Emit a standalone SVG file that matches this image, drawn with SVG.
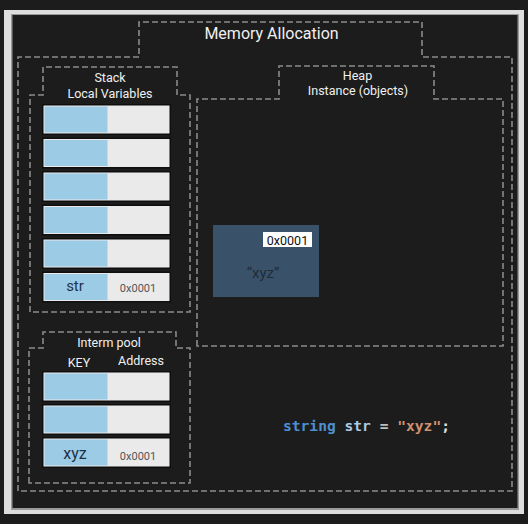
<svg xmlns="http://www.w3.org/2000/svg" width="528" height="524" viewBox="0 0 528 524">
<style>
.dash{fill:none;stroke:#8a8a8a;stroke-width:1.6;stroke-dasharray:6 3}
.rowo{fill:#0e0e0e}
.rowi{fill:#eaeaea}
.blue{fill:#9ccbe6}
.lbl{font-family:Roboto,"Liberation Sans",sans-serif;fill:#f0f0f0;text-anchor:middle}
.key{font-family:Roboto,"Liberation Sans",sans-serif;fill:#1f3347;text-anchor:middle}
.addr{font-family:Roboto,"Liberation Sans",sans-serif;fill:#555;text-anchor:middle;font-size:11px}
.code{font-family:"DejaVu Sans Mono","Liberation Mono",monospace;font-size:14.6px;font-weight:bold}
</style>
<defs>
<g id="row">
<rect class="rowo" x="0" y="0" width="129" height="31"/>
<rect class="rowi" x="1.5" y="1.5" width="126" height="28"/>
<rect class="blue" x="2.5" y="2.5" width="63" height="26"/>
</g>
</defs>
<rect x="0" y="0" width="528" height="524" fill="#1c1c1c"/>
<rect x="4" y="10" width="520" height="504" fill="#dedede"/>
<rect x="11" y="14" width="508" height="496" fill="#9a9a9a"/>
<rect x="12.5" y="15" width="505" height="493" fill="#1c1c1c"/>

<g id="memory-allocation">
<path class="dash" d="M18,491 V57 H139 V22 H422 V57 H512 V491 Z"/>
<text class="lbl" x="271.5" y="38.5" font-size="16">Memory Allocation</text>
</g>

<g id="stack">
<path class="dash" d="M30,312 V95 H43 V67 H177 V95 H190 V312 Z"/>
<text class="lbl" x="110" y="81.5" font-size="12.5">Stack</text>
<text class="lbl" x="110" y="97.5" font-size="12.5">Local Variables</text>
<use href="#row" x="42" y="104"/>
<use href="#row" x="42" y="137.5"/>
<use href="#row" x="42" y="171"/>
<use href="#row" x="42" y="204.5"/>
<use href="#row" x="42" y="238"/>
<use href="#row" x="42" y="271.5"/>
<text class="key" x="75" y="291" font-size="15">str</text>
<text class="addr" x="138" y="292">0x0001</text>
</g>

<g id="heap">
<path class="dash" d="M197,346 V99 H279 V66 H434 V99 H503 V346 Z"/>
<text class="lbl" x="357.5" y="80" font-size="12.5">Heap</text>
<text class="lbl" x="358" y="95" font-size="12.5">Instance (objects)</text>
</g>

<g id="heap-object">
<rect x="213" y="225" width="106" height="72" fill="#3a5269"/>
<rect x="263" y="232" width="49" height="15" fill="#ffffff"/>
<text x="287.5" y="244.5" font-family="Roboto,'Liberation Sans',sans-serif" font-size="12.5" fill="#111" text-anchor="middle">0x0001</text>
<text x="263" y="278" font-family="Roboto,'Liberation Sans',sans-serif" font-size="15" fill="#1f2c3a" text-anchor="middle">“xyz”</text>
</g>

<g id="intern-pool">
<path class="dash" d="M29,483 V348 H43 V332 H176 V348 H190 V483 Z"/>
<text class="lbl" x="109" y="347" font-size="12.5">Interm pool</text>
<text class="lbl" x="79" y="367" font-size="12.5">KEY</text>
<text class="lbl" x="141" y="365" font-size="12.5">Address</text>
<use href="#row" x="42" y="371"/>
<use href="#row" x="42" y="404"/>
<use href="#row" x="42" y="437"/>
<text class="key" x="75" y="459" font-size="16">xyz</text>
<text class="addr" x="138" y="460">0x0001</text>
</g>

<g id="code">
<text class="code" x="283" y="431"><tspan fill="#4f8fd0">string</tspan><tspan fill="#a9c9e6"> str</tspan><tspan fill="#bdbdbd"> = </tspan><tspan fill="#d0916e">"xyz"</tspan><tspan fill="#e0e0e0">;</tspan></text>
</g>

<g id="connectors"></g>
</svg>
